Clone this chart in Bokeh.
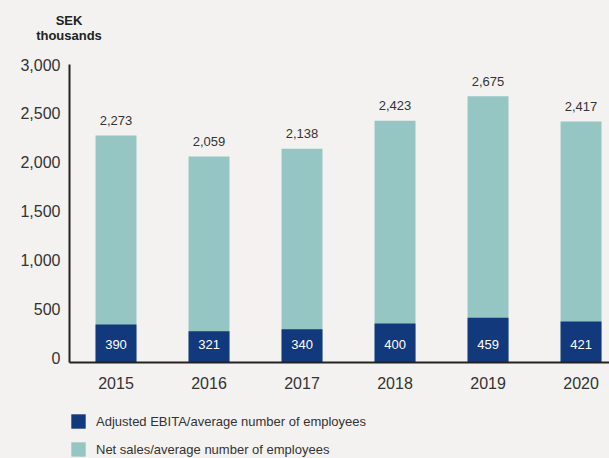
from bokeh.plotting import figure
from bokeh.models import (Range1d, FixedTicker, NumeralTickFormatter, Legend,
                          LegendItem, ColumnDataSource, Div)
from bokeh.layouts import column
from bokeh.transform import dodge
from bokeh.core.properties import value
from bokeh.embed import file_html
from bokeh.resources import INLINE

years = [2015, 2016, 2017, 2018, 2019, 2020]
year_labels = ["2015", "2016", "2017", "2018", "2019", "2020"]
net_sales = [2273, 2059, 2138, 2423, 2675, 2417]
ebita = [390, 321, 340, 400, 459, 421]
y_ticks = [0, 500, 1000, 1500, 2000, 2500, 3000]
series_names = ["Adjusted EBITA/average number of employees",
                "Net sales/average number of employees"]
unit_lines = ["SEK", "thousands"]

FONT = "Liberation Sans"
BG = "#f3f2f0"
TEAL = "#95c6c4"
NAVY = "#12397c"
Y0 = -51

src = ColumnDataSource(dict(
    year=years, net=net_sales, ebita=ebita,
    net_lbl=[f"{v:,}" for v in net_sales],
    eb_lbl=[str(v) for v in ebita],
))

# header with the unit text
header = Div(
    text=('<div style="width:138px;text-align:center;font-family:\'Liberation Sans\';'
          'font-weight:bold;font-size:13px;line-height:15px;padding-top:13px;'
          'color:#222222;">' + "<br>".join(unit_lines) + "</div>"),
    width=609, height=56, margin=0,
    styles={"background-color": BG})

p = figure(width=609, height=344, title=None,
           x_range=Range1d(2014.5, 2020.306), y_range=Range1d(Y0, 3000),
           output_backend="svg", toolbar_location=None,
           min_border_left=69, min_border_right=0, min_border_top=8,
           min_border_bottom=38, margin=0,
           background_fill_color=BG, border_fill_color=BG,
           outline_line_color=None)

teal = p.vbar(x="year", top="net", bottom=Y0, width=0.44, source=src,
              fill_color=TEAL, line_color=None)
navy = p.vbar(x="year", top=dodge("ebita", Y0), bottom=Y0, width=0.44,
              source=src, fill_color=NAVY, line_color=None)

p.text(x="year", y="net", text="net_lbl", source=src, text_align="center",
       text_baseline="middle", y_offset=-15, text_font=value(FONT),
       text_font_size="13px", text_color="#333333")
p.text(x="year", y=Y0, text="eb_lbl", source=src, text_align="center",
       text_baseline="middle", y_offset=-18, text_font=value(FONT),
       text_font_size="13px", text_color="#ffffff")

p.xgrid.visible = False
p.ygrid.visible = False

ya = p.yaxis[0]
ya.ticker = FixedTicker(ticks=y_ticks)
ya.formatter = NumeralTickFormatter(format="0,0")
ya.major_tick_line_color = None
ya.major_tick_out = 0
ya.major_tick_in = 0
ya.minor_tick_line_color = None
ya.major_label_standoff = 9
ya.major_label_text_font = FONT
ya.major_label_text_font_size = "16px"
ya.major_label_text_color = "#333333"
ya.axis_line_width = 2
ya.axis_line_color = "#222222"

xa = p.xaxis[0]
xa.ticker = FixedTicker(ticks=years)
xa.major_label_overrides = {y: l for y, l in zip(years, year_labels)}
xa.major_tick_line_color = None
xa.major_tick_out = 0
xa.major_tick_in = 0
xa.minor_tick_line_color = None
xa.major_label_standoff = 14
xa.major_label_text_font = FONT
xa.major_label_text_font_size = "16px"
xa.major_label_text_color = "#333333"
xa.axis_line_width = 2
xa.axis_line_color = "#222222"

# legend strip below the chart (swatch renderers sit outside the visible range)
lf = figure(width=609, height=58, x_range=Range1d(0, 1), y_range=Range1d(0, 1),
            output_backend="svg", toolbar_location=None,
            x_axis_location=None, y_axis_location=None,
            min_border=0, margin=0,
            background_fill_color=BG, border_fill_color=BG,
            outline_line_color=None)
lf.xgrid.visible = False
lf.ygrid.visible = False
swatch = ColumnDataSource(dict(x=[-10], top=[-10]))
l_navy = lf.vbar(x="x", top="top", width=0.1, source=swatch,
                 fill_color=NAVY, line_color=None)
l_teal = lf.vbar(x="x", top="top", width=0.1, source=swatch,
                 fill_color=TEAL, line_color=None)
legend = Legend(items=[LegendItem(label=series_names[0], renderers=[l_navy]),
                       LegendItem(label=series_names[1], renderers=[l_teal])],
                location=(0, 0), orientation="vertical",
                glyph_width=18, glyph_height=18, label_height=18,
                spacing=10, label_standoff=9, padding=0, margin=0,
                border_line_color=None, background_fill_alpha=0,
                label_text_font=FONT, label_text_font_size="13px",
                label_text_color="#333333")
lf.add_layout(legend)

layout = column(header, p, lf, spacing=0, margin=0)

html = file_html(layout, INLINE)
html = html.replace("<head>", "<head><style>html,body{background:#f3f2f0;}</style>", 1)
open("out.html", "w").write(html)
